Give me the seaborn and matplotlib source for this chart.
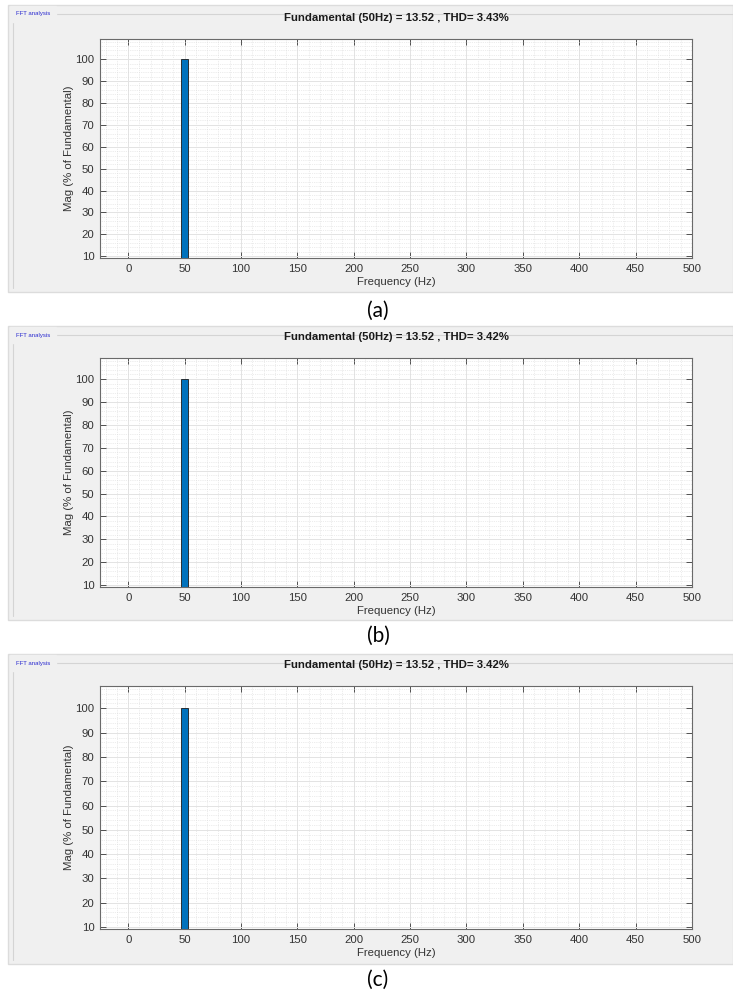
import numpy as np
import pandas as pd
import matplotlib.pyplot as plt
import seaborn as sns
from matplotlib.patches import Rectangle
from matplotlib.lines import Line2D
from matplotlib.ticker import MultipleLocator

# harmonic spectrum: only the fundamental rises above the y-limit
freq = [50]
mag = [100]
fundamental = [13.52, 13.52, 13.52]
thd = [3.43, 3.42, 3.42]
captions = ['(a)', '(b)', '(c)']

W, H = 733, 1001

sns.set_style('ticks')
plt.rcParams['font.family'] = ['Liberation Sans', 'DejaVu Sans']

fig = plt.figure(figsize=(W / 100, H / 100), dpi=100)
fig.patch.set_facecolor('white')


def fx(x):
    return x / W


def fy(y):
    return 1 - y / H


# pixel layout of each panel: (panel top, panel bottom, axes top, axes bottom)
panels = [(5, 292, 39, 258), (326, 620, 358, 587), (654, 964, 686, 929)]
title_pad = [13, 13, 13]
caption_y = [311, 636, 980]

df = pd.DataFrame({'freq': freq, 'mag': mag})

for i, (ptop, pbot, atop, abot) in enumerate(panels):
    # gray uipanel background
    fig.patches.append(Rectangle((fx(8), fy(pbot)), fx(W - 8), (pbot - ptop) / H,
                                 transform=fig.transFigure, facecolor='#f0f0f0',
                                 edgecolor='#dcdcdc', lw=1, zorder=-2))
    fig.lines.append(Line2D([fx(13), fx(W)], [fy(ptop + 9)] * 2, transform=fig.transFigure,
                            color='#d4d4d4', lw=0.8, zorder=-1))
    fig.lines.append(Line2D([fx(13), fx(13)], [fy(ptop + 9), fy(pbot - 4)], transform=fig.transFigure,
                            color='#d4d4d4', lw=0.8, zorder=-1))
    fig.text(fx(16), fy(ptop + 9), 'FFT analysis', fontsize=4.3, color='#2a2ad0',
             va='center', ha='left', backgroundcolor='#f0f0f0')

    ax = fig.add_axes([fx(100), fy(abot), fx(692 - 100), (abot - atop) / H])
    ax.set_facecolor('white')
    sns.barplot(data=df, x='freq', y='mag', native_scale=True, width=5.6, errorbar=None,
                color='#0072BD', saturation=1, edgecolor='#1a1a1a', linewidth=0.6, ax=ax)
    ax.set_xlim(-25, 500)
    ax.set_ylim(9.2, 109.2)
    ax.xaxis.set_major_locator(MultipleLocator(50))
    ax.xaxis.set_minor_locator(MultipleLocator(10))
    ax.yaxis.set_major_locator(MultipleLocator(10))
    ax.yaxis.set_minor_locator(MultipleLocator(2))
    ax.grid(which='major', color='#e3e3e3', lw=0.7, ls='-')
    ax.grid(which='minor', color='#dadada', lw=0.5, ls=':')
    ax.set_axisbelow(True)
    ax.tick_params(which='major', direction='in', length=4, width=0.7, color='#505050',
                   top=True, right=True, labelsize=8.2, labelcolor='#333333', pad=4)
    ax.tick_params(which='minor', length=0)
    for s in ax.spines.values():
        s.set_color('#6a6a6a')
        s.set_linewidth(0.8)
    ax.set_xlabel('Frequency (Hz)', fontsize=8.2, color='#333333', labelpad=2.5)
    ax.set_ylabel('Mag (% of Fundamental)', fontsize=8.2, color='#333333', labelpad=1)
    ax.set_title(f'Fundamental (50Hz) = {fundamental[i]:.2f} , THD= {thd[i]:.2f}%',
                 fontsize=8.2, fontweight='bold', color='#1a1a1a', pad=title_pad[i])

    fig.text(fx(378), fy(caption_y[i]), captions[i], fontsize=15, family=['Lato', 'DejaVu Sans'],
             ha='center', va='center', color='black')

fig.savefig('out.png', dpi=100)
